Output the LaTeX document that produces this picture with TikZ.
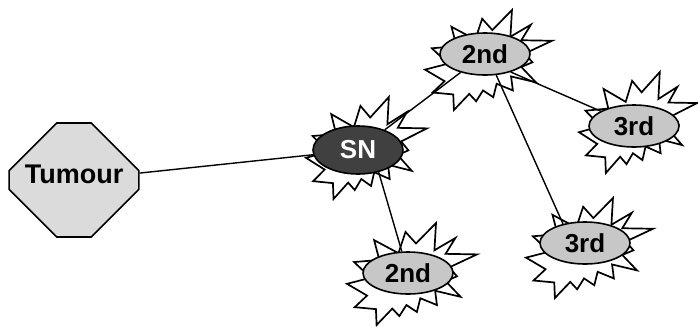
\documentclass[tikz,border=0pt]{standalone}
\usepackage{fontspec}
\setmainfont{Liberation Sans}
\usetikzlibrary{shapes.geometric,shapes.misc,calc}
\tikzset{
  lbl/.style={font=\fontsize{26}{30}\selectfont\bfseries},
  burstline/.style={draw=black,line width=1.7pt,line join=miter},
  burst/.pic={\draw[burstline] (53.06,20.10) -- (68.47,0) -- (67.25,26.75) -- (83.37,14.69) -- (75.83,30.24) -- (100,30.76) -- (78.63,43.53) -- (84.58,52.27) -- (75.83,56.99) -- (87.39,72.37) -- (67.78,66.44) -- (69.18,80.42) -- (56.39,73.77) -- (53.76,87.23) -- (45.70,80.42) -- (40.28,91.26) -- (34.85,83.91) -- (22.76,100) -- (22.25,84.44) -- (5.95,82.52) -- (15.42,71.16) -- (0,59.62) -- (18.22,53.67) -- (5.43,38.29) -- (24.87,36.19) -- (20.84,16.78) -- (39.58,29.55) -- (45.01,8.74) -- cycle;},
  nodeell/.style={ellipse,draw=black,line width=1.6pt,fill=black!22,minimum width=90pt,minimum height=42pt,inner sep=0pt,lbl},
  snell/.style={nodeell,fill=black!75,text=white,minimum height=48pt},
  tumourbox/.style={chamfered rectangle,chamfered rectangle xsep=32pt,chamfered rectangle ysep=32pt,draw=black,line width=1.6pt,fill=black!14,minimum width=126pt,minimum height=114pt,inner sep=0pt,font=\fontsize{27}{31}\selectfont\bfseries,text height=19.3pt,text depth=12pt},
  conn/.style={draw=black,line width=1.4pt}
}
\begin{document}
\begin{tikzpicture}[x=1pt,y=-1pt]
\useasboundingbox (0,0) rectangle (698,327);
% bursts
\pic[xscale=1.21,yscale=1.02] at (306,97) {burst};
\pic[xscale=1.27,yscale=1.00] at (425,10) {burst};
\pic[xscale=1.18,yscale=1.01] at (579,72) {burst};
\pic[xscale=1.27,yscale=1.00] at (526,198) {burst};
\pic[xscale=1.30,yscale=1.02] at (347,223) {burst};
% nodes
\node[tumourbox] (tum) at (74,180) {Tumour};
\node[snell] (sn) at (358,150) {SN};
\node[nodeell] (e2a) at (485,54) {2nd};
\node[nodeell] (e3a) at (634,126) {3rd};
\node[nodeell] (e3b) at (585,243) {3rd};
\node[nodeell] (e2b) at (408,273) {2nd};
% connectors
\draw[conn] (tum) -- (sn);
\draw[conn] (sn) -- (e2a);
\draw[conn] (e2a.-35) -- (e3a.156);
\draw[conn] (e2a.-62) -- (e3b.139);
\draw[conn] (sn.-47) -- (e2b.106);
\end{tikzpicture}
\end{document}
